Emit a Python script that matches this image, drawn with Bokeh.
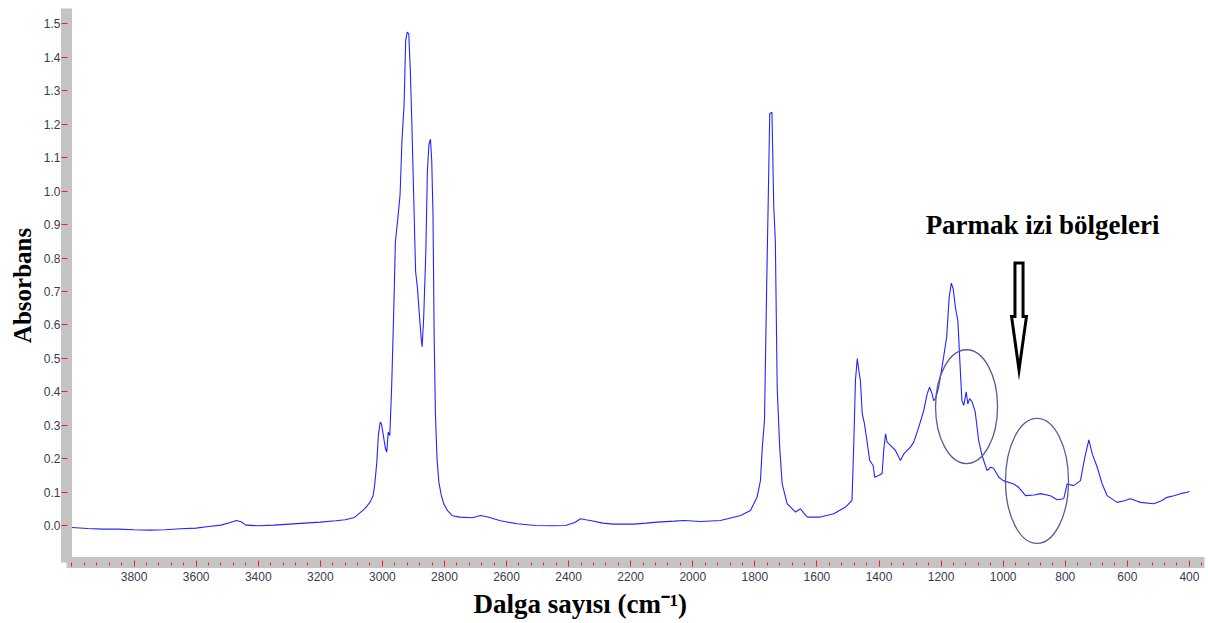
import math
from bokeh.plotting import figure
from bokeh.models import Range1d, FixedTicker, Label, PrintfTickFormatter, Title
from bokeh.embed import file_html
from bokeh.resources import INLINE

# ---- data ----
wavenumber = [4000, 3950, 3900, 3850, 3800, 3750, 3700, 3650, 3600, 3560, 3520, 3490, 3470, 3455, 3440,
              3400, 3350, 3300, 3250, 3200, 3150, 3120, 3090, 3058, 3040, 3030, 3025, 3018, 3013, 3007,
              3003, 2997, 2990, 2986, 2981, 2976, 2970, 2964, 2958, 2950, 2943, 2937, 2930, 2925, 2920,
              2915, 2910, 2905, 2899, 2893, 2887, 2880, 2875, 2872, 2867, 2860, 2855, 2850, 2845, 2841,
              2837, 2833, 2829, 2824, 2818, 2810, 2802, 2790, 2775, 2750, 2711, 2695, 2684, 2660, 2620,
              2566, 2507, 2450, 2410, 2380, 2362, 2345, 2330, 2290, 2255, 2191, 2150, 2115, 2060, 2029,
              1975, 1911, 1846, 1814, 1793, 1782, 1776, 1769, 1762, 1757, 1752, 1745, 1739, 1734, 1728,
              1720, 1712, 1696, 1669, 1653, 1640, 1630, 1589, 1546, 1508, 1487, 1481, 1476, 1470, 1465,
              1460, 1454, 1447, 1439, 1430, 1419, 1414, 1401, 1390, 1385, 1379, 1374, 1363, 1347, 1331,
              1320, 1299, 1288, 1272, 1256, 1245, 1237, 1229, 1224, 1218, 1208, 1197, 1182, 1174, 1167,
              1161, 1154, 1146, 1140, 1133, 1127, 1119, 1114, 1108, 1100, 1090, 1079, 1068, 1052, 1040,
              1031, 1014, 1000, 966, 950, 928, 900, 880, 848, 826, 805, 800, 794, 773, 751,
              738, 724, 713, 697, 681, 665, 633, 610, 590, 570, 558, 515, 490, 472, 450,
              429, 407, 400]
absorbance = [-0.005, -0.008, -0.010, -0.010, -0.012, -0.013, -0.012, -0.009, -0.007, -0.002, 0.002, 0.010, 0.016, 0.012, 0.002,
              0.000, 0.002, 0.005, 0.008, 0.011, 0.015, 0.018, 0.025, 0.050, 0.070, 0.090, 0.120, 0.190, 0.270, 0.310,
              0.305, 0.270, 0.230, 0.220, 0.280, 0.270, 0.420, 0.620, 0.850, 0.920, 0.990, 1.150, 1.260, 1.450, 1.475,
              1.470, 1.360, 1.200, 0.980, 0.760, 0.710, 0.620, 0.560, 0.535, 0.620, 0.820, 1.060, 1.140, 1.155, 1.090,
              0.930, 0.550, 0.330, 0.200, 0.130, 0.090, 0.065, 0.045, 0.030, 0.026, 0.024, 0.028, 0.031, 0.026, 0.015,
              0.006, 0.001, 0.000, 0.001, 0.010, 0.021, 0.018, 0.016, 0.008, 0.005, 0.005, 0.008, 0.011, 0.014, 0.016,
              0.013, 0.016, 0.031, 0.046, 0.085, 0.135, 0.235, 0.315, 0.713, 0.970, 1.232, 1.236, 0.950, 0.850, 0.410,
              0.235, 0.125, 0.066, 0.041, 0.051, 0.035, 0.026, 0.026, 0.036, 0.056, 0.076, 0.255, 0.434, 0.500, 0.464,
              0.434, 0.335, 0.305, 0.255, 0.195, 0.180, 0.145, 0.150, 0.156, 0.225, 0.275, 0.250, 0.240, 0.225, 0.195,
              0.215, 0.235, 0.250, 0.295, 0.344, 0.394, 0.414, 0.394, 0.374, 0.380, 0.414, 0.474, 0.564, 0.683, 0.725,
              0.708, 0.653, 0.613, 0.500, 0.374, 0.360, 0.400, 0.364, 0.380, 0.370, 0.340, 0.255, 0.210, 0.165, 0.175,
              0.172, 0.145, 0.135, 0.125, 0.115, 0.090, 0.092, 0.096, 0.090, 0.078, 0.081, 0.100, 0.125, 0.120, 0.135,
              0.200, 0.257, 0.215, 0.175, 0.125, 0.090, 0.070, 0.075, 0.081, 0.074, 0.070, 0.066, 0.075, 0.085, 0.090,
              0.096, 0.100, 0.103]

y_ticks = [0.0, 0.1, 0.2, 0.3, 0.4, 0.5, 0.6, 0.7, 0.8, 0.9, 1.0, 1.1, 1.2, 1.3, 1.4, 1.5]
x_major_ticks = [4000, 3800, 3600, 3400, 3200, 3000, 2800, 2600, 2400, 2200, 2000,
                 1800, 1600, 1400, 1200, 1000, 800, 600, 400]
x_minor_ticks = list(range(360, 4001, 40))

x_title = "Dalga sayısı (cm⁻¹)"
y_title = "Absorbans"
note_text = "Parmak izi bölgeleri"

# annotation placements (data coordinates)
ellipse_x = [1118, 891]
ellipse_y = [0.356, 0.134]
ellipse_w = [62, 63]
ellipse_h = [114, 125]
note_x, note_y = 873, 0.900
arrow_x, arrow_top, arrow_base, arrow_tip = 949, 0.785, 0.625, 0.466
arrow_shaft_hw, arrow_head_hw = 13, 24

p = figure(width=1208, height=623, output_backend="svg", toolbar_location=None,
           x_range=Range1d(4017.7, 351.4), y_range=Range1d(-0.1097, 1.5457),
           min_border_left=66, min_border_right=4, min_border_top=8, min_border_bottom=61)
p.outline_line_color = None
p.grid.visible = False
p.background_fill_color = "white"
p.border_fill_color = "white"

BAND = "#c4c4c4"
TICK = "#ff1a1a"
LBL = "#3a3a4c"

p.line(wavenumber, absorbance, line_color="#2424ff", line_width=1.1)

p.ellipse(x=ellipse_x, y=ellipse_y, width=ellipse_w, height=ellipse_h,
          width_units="screen", height_units="screen",
          fill_color=None, line_color="#5a5a96", line_width=1.3)

ax = [arrow_x - arrow_shaft_hw, arrow_x + arrow_shaft_hw, arrow_x + arrow_shaft_hw,
      arrow_x + arrow_head_hw, arrow_x, arrow_x - arrow_head_hw, arrow_x - arrow_shaft_hw]
ay = [arrow_top, arrow_top, arrow_base, arrow_base, arrow_tip, arrow_base, arrow_base]
p.patch(ax, ay, fill_color="white", line_color="black", line_width=3, line_join="miter")

# y axis
ya = p.yaxis[0]
ya.ticker = FixedTicker(ticks=y_ticks)
ya.formatter = PrintfTickFormatter(format="%.1f")
ya.axis_line_color = BAND
ya.axis_line_width = 11
ya.major_tick_line_color = TICK
ya.major_tick_out = 5
ya.major_tick_in = 1
ya.minor_tick_line_color = None
ya.major_label_standoff = 1
ya.major_label_text_font = "Liberation Sans"
ya.major_label_text_font_size = "12px"
ya.major_label_text_color = LBL
ya.axis_label = y_title
ya.axis_label_standoff = 5
ya.axis_label_text_font = "Liberation Serif"
ya.axis_label_text_font_style = "bold"
ya.axis_label_text_font_size = "25px"
ya.axis_label_text_color = "black"

# x axis
xa = p.xaxis[0]
xa.ticker = FixedTicker(ticks=x_major_ticks, minor_ticks=x_minor_ticks)
xa.axis_line_color = BAND
xa.axis_line_width = 11
xa.major_tick_line_color = TICK
xa.major_tick_out = 4
xa.major_tick_in = 2
xa.minor_tick_line_color = TICK
xa.minor_tick_out = 3
xa.minor_tick_in = 0
xa.major_label_standoff = 5
xa.major_label_overrides = {4000: ""}
xa.major_label_text_font = "Liberation Sans"
xa.major_label_text_font_size = "12px"
xa.major_label_text_color = LBL

p.add_layout(Title(text=x_title, align="left", offset=407, standoff=7,
                   text_font="Liberation Serif", text_font_style="bold",
                   text_font_size="27px", text_color="black"), "below")

p.add_layout(Label(x=note_x, y=note_y, text=note_text,
                   text_font="Liberation Serif", text_font_style="bold",
                   text_font_size="27px", text_color="black",
                   text_align="center", text_baseline="alphabetic"))

open("out.html", "w").write(file_html(p, INLINE))
